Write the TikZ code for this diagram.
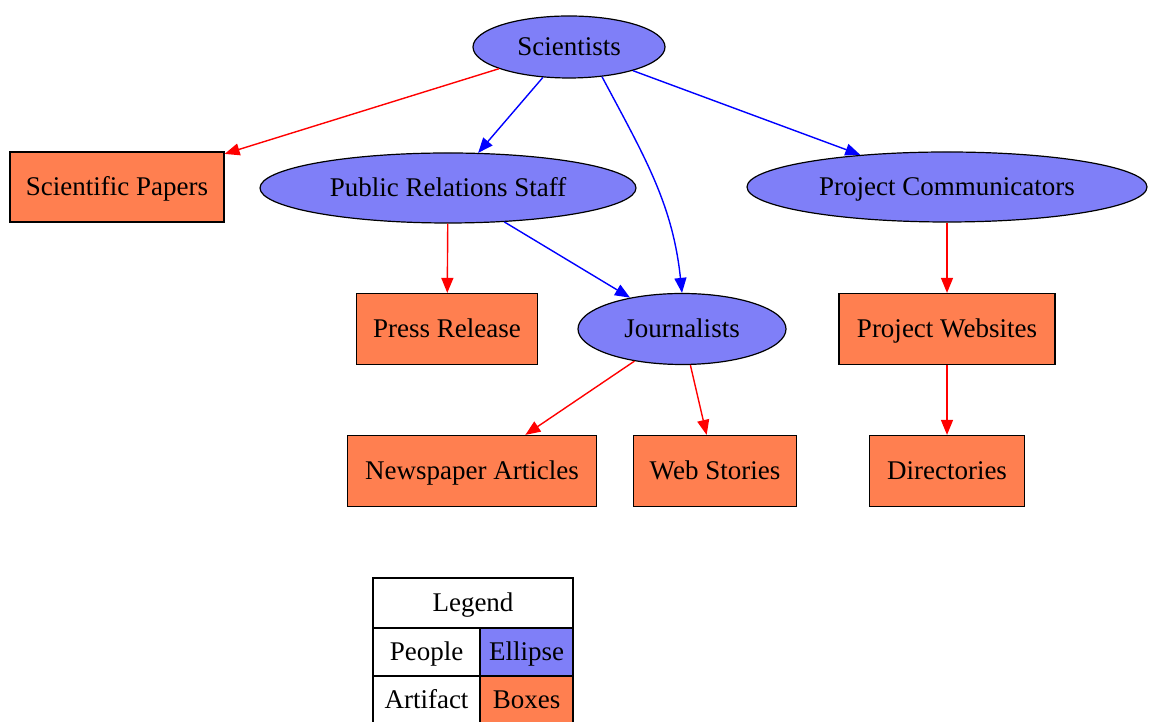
\documentclass[tikz,border=0pt]{standalone}
\usepackage{fontspec}
\setmainfont{Liberation Serif}
\usetikzlibrary{shapes.geometric,arrows.meta}
\definecolor{peoplefill}{HTML}{7F7FF8}
\definecolor{artifactfill}{HTML}{FF7F50}
\begin{document}
\begin{tikzpicture}[x=1pt,y=1pt,
    every node/.style={font=\fontsize{27}{32}\selectfont, line width=1.2pt, text height=20pt, text depth=2pt},
    person/.style={ellipse, draw=black, fill=peoplefill, inner xsep=-200pt, inner ysep=0pt},
    artifact/.style={rectangle, draw=black, fill=artifactfill, inner sep=0pt},
    cell/.style={rectangle, draw=black, inner sep=0pt, minimum height=48pt},
    every edge/.style={draw, line width=1.4pt, -{Triangle[length=15pt,width=12pt]}}]
    \useasboundingbox (0,0) rectangle (1150,722);
    \node[person, minimum width=192pt, minimum height=62pt] (sci) at (569,675) {Scientists};
    \node[artifact, minimum width=214pt, minimum height=70pt] (papers) at (117,535) {Scientific Papers};
    \node[person, minimum width=376pt, minimum height=70pt] (prs) at (448,534) {Public Relations Staff};
    \node[person, minimum width=400pt, minimum height=70pt] (comm) at (947,535) {Project Communicators};
    \node[artifact, minimum width=181pt, minimum height=71pt] (press) at (447,393) {Press Release};
    \node[person, minimum width=208pt, minimum height=71pt] (jour) at (682,393) {Journalists};
    \node[artifact, minimum width=216pt, minimum height=71pt] (sites) at (947,393) {Project Websites};
    \node[artifact, minimum width=249pt, minimum height=71pt] (news) at (472,251) {Newspaper Articles};
    \node[artifact, minimum width=163pt, minimum height=71pt] (web) at (715,251) {Web Stories};
    \node[artifact, minimum width=155pt, minimum height=71pt] (dirs) at (947,251) {Directories};
    \draw (sci) edge [red] (papers);
    \draw (sci) edge [blue] (prs);
    \draw (sci) edge [blue] (comm);
    \draw (sci.-42) edge [blue, out=-62, in=96] (jour.north);
    \draw (prs) edge [red] (press);
    \draw (prs) edge [blue] (jour);
    \draw (comm) edge [red] (sites);
    \draw (jour) edge [red] (news);
    \draw (jour) edge [red] (web);
    \draw (sites) edge [red] (dirs);
    \node[cell, minimum width=200pt, minimum height=50pt] (legend) at (473,119) {Legend};
    \node[cell, minimum width=107pt] (people) at (426.5,70) {People};
    \node[cell, fill=peoplefill, minimum width=93pt] (ell) at (526.5,70) {Ellipse};
    \node[cell, minimum width=107pt] (art) at (426.5,22) {Artifact};
    \node[cell, fill=artifactfill, minimum width=93pt] (boxes) at (526.5,22) {Boxes};
\end{tikzpicture}
\end{document}
